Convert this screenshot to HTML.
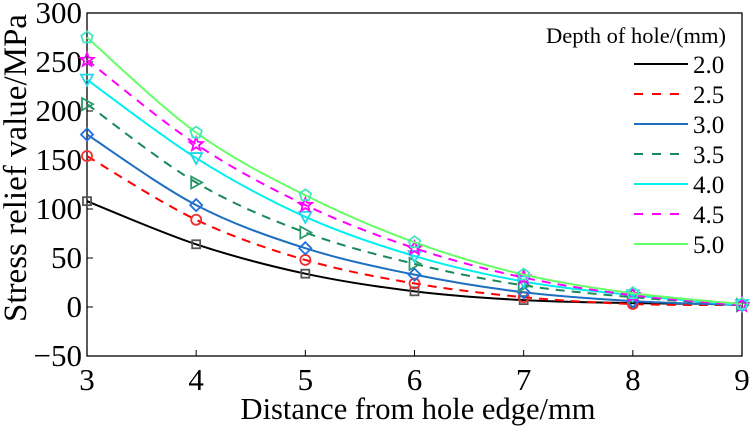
<!DOCTYPE html>
<html><head><meta charset="utf-8"><style>
body{margin:0;background:#fff;}
svg{display:block;font-family:"Liberation Serif",serif;}
</style></head><body>
<svg id="chart" width="750" height="435">
<g id="plot"></g>
</svg>
<script>
const xCats=[3,4,5,6,7,8,9];
const xTicks=[3,4,5,6,7,8,9];
const yTicks=[-50,0,50,100,150,200,250,300];
const seriesNames=["2.0","2.5","3.0","3.5","4.0","4.5","5.0"];
const s20=[108,64,34,16,7,4,3];
const s25=[154,89,48,24,10,3,2];
const s30=[176,104,60,33,15,6,2];
const s35=[207,127,76,44,22,10,2];
const s40=[232,152,92,52,26,12,2];
const s45=[252,166,104,60,30,12,2];
const s50=[275,178,114,66,33,14,3];
const allSeries=[s20,s25,s30,s35,s40,s45,s50];
const colors=["#000","#f00","#1f6fbf","#1a8a5a","#00f0f0","#f0f","#66ff66"];
const mcolors=["#555","#f03030","#1f6fe0","#2a9a6a","#20d8e8","#f0f","#40e8c0"];
const dashes=[null,"9,7",null,"9,7",null,"9,7",null];
const markers=["square","circle","diamond","tri","dtri","star","pent"];
const L=87,R=742,T=13,B=356;
const X=v=>L+(v-3)/(9-3)*(R-L);
const Y=v=>B-(v+50)/350*(B-T);
const NS="http://www.w3.org/2000/svg";
const svg=document.getElementById('chart');
function mk(tag,at,parent){const e=document.createElementNS(NS,tag);for(const k in at)e.setAttribute(k,at[k]);(parent||svg).appendChild(e);return e;}
let fr=mk('rect',{x:L,y:T,width:R-L,height:B-T,fill:'none',stroke:'#000','stroke-width':1.3});


xTicks.forEach(t=>{
 let l=mk('line',{x1:X(t),x2:X(t),y1:B,y2:B-6,stroke:'#000'});
 
 
 let tx=mk('text',{x:X(t),y:B+34,'text-anchor':'middle','font-size':31});
 tx.textContent=t;
 
 
});
yTicks.forEach(t=>{
 let l=mk('line',{x1:L,x2:L+6,y1:Y(t),y2:Y(t),stroke:'#000'});
 
 
 let tx=mk('text',{x:L-5,y:Y(t)+10,'text-anchor':'end','font-size':31});
 tx.textContent=t<0?'\u2212'+(-t):t;
 
 
});
let xt=mk('text',{x:418,y:419,'text-anchor':'middle','font-size':30.5});
xt.textContent='Distance from hole edge/mm';


let yt=mk('text',{x:0,y:0,'text-anchor':'middle','font-size':33,transform:'translate(26,168) rotate(-90)'});
yt.textContent='Stress relief value/MPa';


function smooth(pts){
 let d=`M${pts[0][0]},${pts[0][1]}`;
 for(let i=0;i<pts.length-1;i++){
  const p0=pts[Math.max(0,i-1)],p1=pts[i],p2=pts[i+1],p3=pts[Math.min(pts.length-1,i+2)];
  const c1=[p1[0]+(p2[0]-p0[0])/6,p1[1]+(p2[1]-p0[1])/6];
  const c2=[p2[0]-(p3[0]-p1[0])/6,p2[1]-(p3[1]-p1[1])/6];
  d+=`C${c1[0]},${c1[1]} ${c2[0]},${c2[1]} ${p2[0]},${p2[1]}`;
 }
 return d;
}
function marker(type,x,y,c,g){
 let e;
 const st={fill:'none',stroke:c,'stroke-width':1.8};
 if(type==='square')e=mk('rect',Object.assign({x:x-4,y:y-4,width:8,height:8},st),g);
 else if(type==='circle')e=mk('circle',Object.assign({cx:x,cy:y,r:5},st),g);
 else{
  let p;
  if(type==='diamond')p=[[x,y-6],[x+6,y],[x,y+6],[x-6,y]];
  else if(type==='tri')p=[[x-5,y-6],[x+6,y],[x-5,y+6]];
  else if(type==='dtri')p=[[x-6,y-5],[x+6,y-5],[x,y+6]];
  else if(type==='star'){p=[];for(let i=0;i<10;i++){const a=-Math.PI/2+i*Math.PI/5,r=i%2?3:7;p.push([x+r*Math.cos(a),y+r*Math.sin(a)]);}}
  else {p=[];for(let i=0;i<5;i++){const a=-Math.PI/2+i*2*Math.PI/5;p.push([x+6*Math.cos(a),y+6*Math.sin(a)]);}}
  e=mk('polygon',Object.assign({points:p.map(q=>q.join(',')).join(' ')},st),g);
 }
 
 
}
allSeries.forEach((s,i)=>{
 const g=mk('g',{});
 
 
 const pts=s.map((v,j)=>[X(xCats[j]),Y(v)]);
 const at={d:smooth(pts),fill:'none',stroke:colors[i],'stroke-width':2};
 if(dashes[i])at['stroke-dasharray']=dashes[i];
 const p=mk('path',at,g);
 
 
 pts.forEach(q=>marker(markers[i],q[0],q[1],mcolors[i],g));
});
const lg=mk('g',{});


let lt=mk('text',{x:726,y:43,'text-anchor':'end','font-size':22.5},lg);
lt.textContent='Depth of hole/(mm)';


seriesNames.forEach((n,i)=>{
 const y=64+i*30;
 const at={x1:634,x2:688,y1:y,y2:y,stroke:colors[i],'stroke-width':2};
 if(dashes[i])at['stroke-dasharray']='9,9';
 let l=mk('line',at,lg);
 
 
 let t=mk('text',{x:693,y:y+9,'font-size':25},lg);
 t.textContent=n;
 
 
});
</script>
</body></html>
